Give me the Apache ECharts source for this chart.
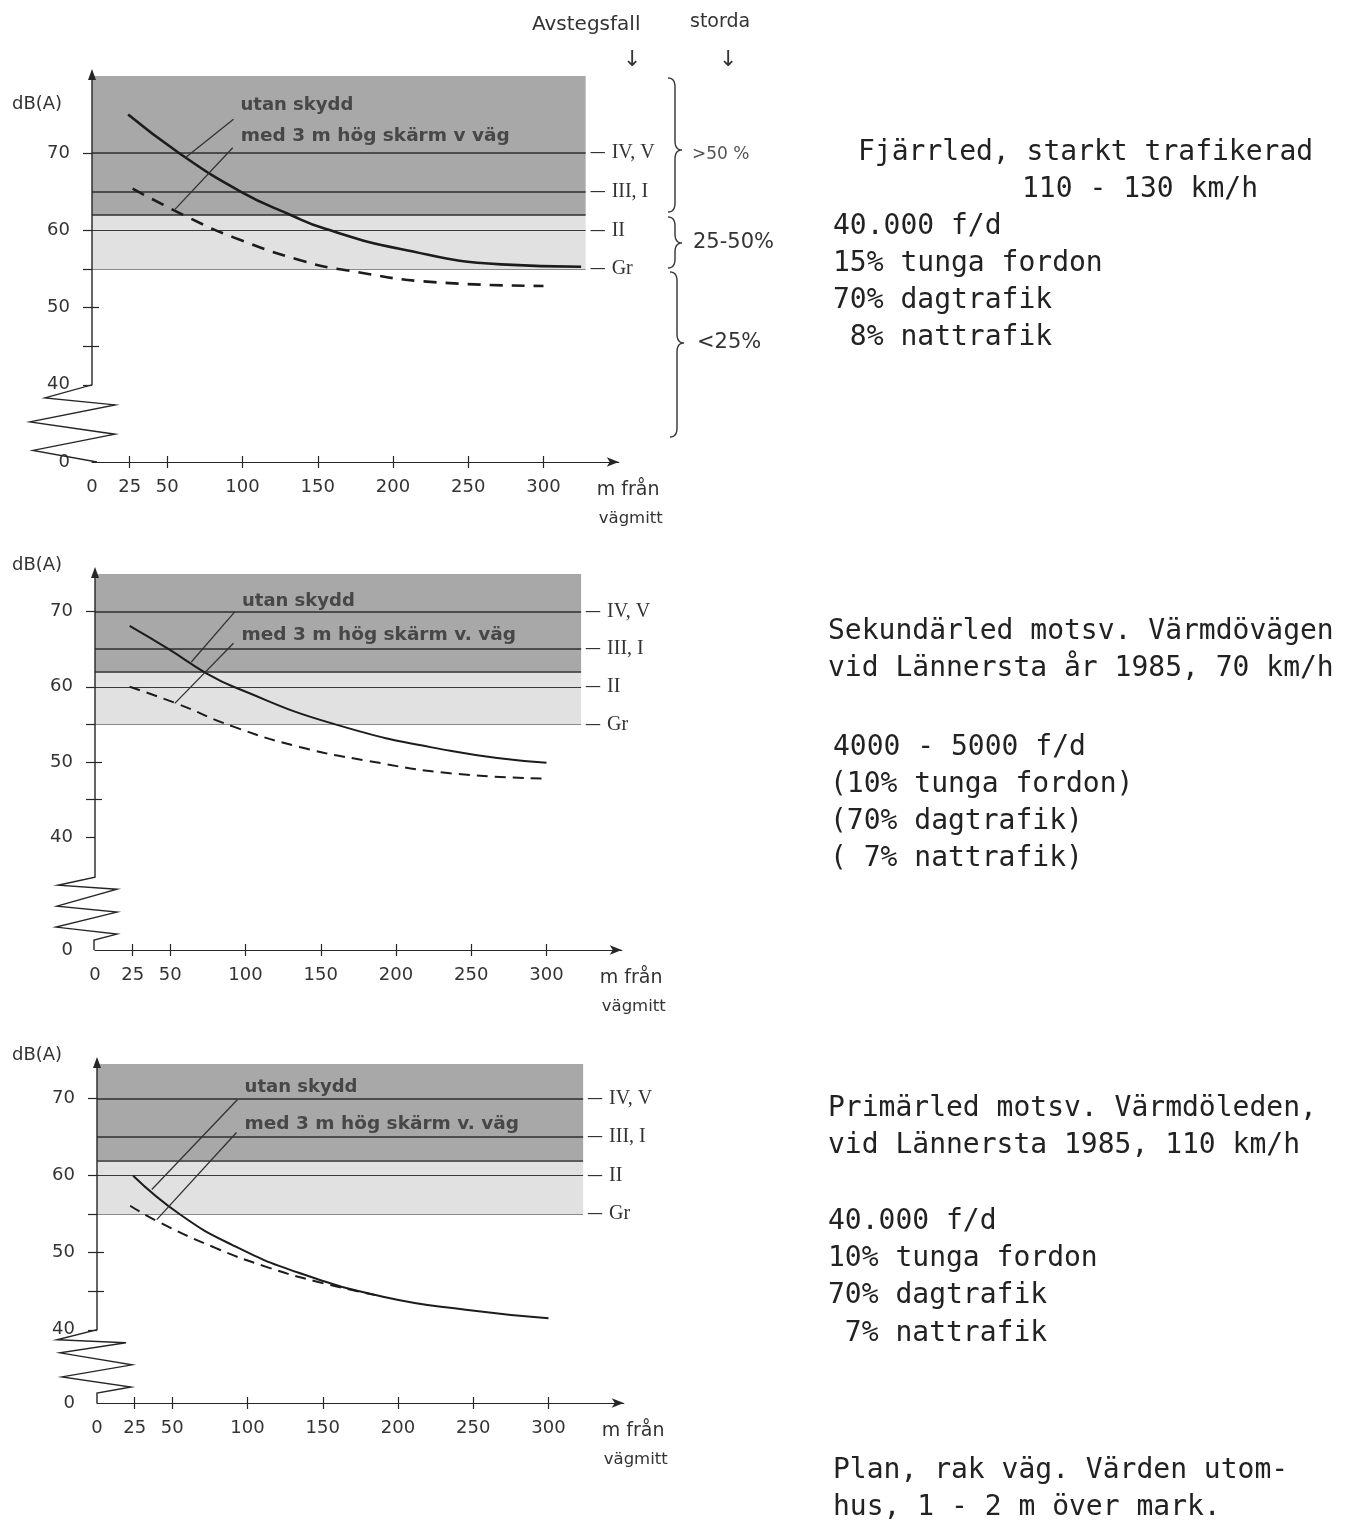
<!DOCTYPE html>
<html>
<head>
<meta charset="utf-8">
<script src="https://cdn.jsdelivr.net/npm/echarts@6/dist/echarts.min.js"></script>
<style>
  html, body { margin: 0; padding: 0; background: #fff; }
  #chart { width: 1351px; height: 1536px; }
</style>
</head>
<body>
<div id="chart"></div>
<script>
// Axis ticks: distance from road centre (m) and sound level dB(A)
const distanceTicks = [0, 25, 50, 100, 150, 200, 250, 300];
const levelLabels = [0, 40, 50, 60, 70];
const levelTicks = [40, 45, 50, 55, 60, 70];

// Guideline levels (dB(A)) and their zone names
const zoneNames = ['IV, V', 'III, I', 'II', 'Gr'];
const zoneLevels = [70, 65, 60, 55];
const bandSplit = 62;   // border between the >50 % and the 25-50 % bands

// Fjärrled, starkt trafikerad
const fjarrUtan = [[24, 75], [58, 70], [99, 65], [132, 62], [155, 60.2], [205, 57.6], [272, 55.6], [325, 55.3]];
const fjarrMed = [[27, 65.4], [66, 61.5], [94, 59.1], [139, 56.1], [170, 54.8], [227, 53.3], [300, 52.8]];
const fjarrUtanLeader = [[94, 74.4], [62, 69.4]];
const fjarrMedLeader = [[93.5, 70.7], [54.5, 62.6]];

// Sekundärled (Värmdövägen)
const sekUtan = [[23, 68.1], [49, 65], [74, 61.8], [92, 60], [158, 55.1], [236, 51.5], [300, 49.9]];
const sekMed = [[23, 60], [54, 57.8], [92, 54.7], [136, 52], [180, 50.2], [236, 48.5], [300, 47.8]];
const sekUtanLeader = [[93, 70], [64, 63.3]];
const sekMedLeader = [[92, 65.8], [53, 57.8]];

// Primärled (Värmdöleden)
const primUtan = [[24, 60], [55, 55], [90, 51], [134, 47.4], [190, 44.3], [245, 42.6], [300, 41.5]];
const primMed = [[22, 56.1], [42, 53.9], [79, 50.6], [112, 48.2], [145, 46.3], [185, 44.5]];
const primUtanLeader = [[93.4, 69.9], [36.4, 58.2]];
const primMedLeader = [[92.7, 65.6], [39.7, 54.3]];

const utanText = 'utan skydd';
const medTexts = ['med 3 m hög skärm v väg', 'med 3 m hög skärm v. väg', 'med 3 m hög skärm v. väg'];

const FONT = 'DejaVu Sans';
const INK = '#262626';

// Layout of the three diagrams
const panels = [
  { left: 92, top: 76, height: 386, yMax: 80, gap: '20%', bandRight: 328,
    utan: fjarrUtan, med: fjarrMed, utanLeader: fjarrUtanLeader, medLeader: fjarrMedLeader,
    width: 2.6, dash: [13, 9], textDy: [-14, -12],
    zig: [[0, 0], [-47, 0.17], [23, 0.26], [-62, 0.48], [23, 0.64], [-59, 0.85], [5, 1]] },
  { left: 95, top: 574, height: 376, yMax: 75, gap: '30%', bandRight: 323,
    utan: sekUtan, med: sekMed, utanLeader: sekUtanLeader, medLeader: sekMedLeader,
    width: 2, dash: [11, 7], textDy: [-10, -8],
    zig: [[0, 0], [0, 0.355], [-37, 0.426], [22, 0.461], [-38, 0.611], [22, 0.664], [-39, 0.797], [22, 0.859], [-1, 0.912], [-1, 1]] },
  { left: 97, top: 1064, height: 339, yMax: 74.5, gap: '21.6%', bandRight: 323,
    utan: primUtan, med: primMed, utanLeader: primUtanLeader, medLeader: primMedLeader,
    width: 2, dash: [11, 7], textDy: [-12, -8],
    zig: [[0, 0], [-40, 0.137], [29, 0.178], [-37, 0.315], [35, 0.479], [-35, 0.644], [34, 0.781], [0, 0.863], [0, 1]] }
];

const grids = [], xAxes = [], yAxes = [], series = [];

panels.forEach((p, i) => {
  grids.push({ left: p.left, top: p.top, width: 350 * 1.505, height: p.height, outerBoundsMode: 'none' });

  const xBase = { type: 'value', gridIndex: i, position: 'bottom', min: 0, max: 350, splitLine: { show: false } };
  xAxes.push(Object.assign({}, xBase, {
    axisLine: { show: true, symbol: ['none', 'arrow'], symbolSize: [7, 12], lineStyle: { color: INK, width: 1.2 } },
    axisTick: { show: true, customValues: distanceTicks.slice(1), length: 6, lineStyle: { color: INK, width: 1.2 } },
    axisLabel: { show: true, customValues: distanceTicks, fontFamily: FONT, fontSize: 18, color: '#333', margin: 16 }
  }));
  xAxes.push(Object.assign({}, xBase, {
    axisLine: { show: false },
    axisTick: { show: true, inside: true, customValues: distanceTicks.slice(1), length: 6, lineStyle: { color: INK, width: 1.2 } },
    axisLabel: { show: false }
  }));

  const yBase = { type: 'value', gridIndex: i, position: 'left', min: 0, max: p.yMax, splitLine: { show: false },
    breaks: [{ start: 0, end: 40, gap: p.gap }], breakArea: { show: false } };
  yAxes.push(Object.assign({}, yBase, {
    axisLine: { show: false },
    axisTick: { show: true, customValues: levelTicks, length: 9, lineStyle: { color: INK, width: 1.2 } },
    axisLabel: { show: true, customValues: levelLabels, fontFamily: FONT, fontSize: 18, color: '#333', margin: 22 }
  }));
  yAxes.push(Object.assign({}, yBase, {
    axisLine: { show: false },
    axisTick: { show: true, inside: true, customValues: [45, 50], length: 7, lineStyle: { color: INK, width: 1.2 } },
    axisLabel: { show: false }
  }));

  const xi = 2 * i, yi = 2 * i;
  const dash = { fontFamily: FONT, fontSize: 16, color: '#333', padding: [0, 6, 0, 0] };
  const roman = { fontFamily: 'Liberation Serif', fontSize: 20, color: '#333' };
  const zoneLine = (lvl, name, style) => [
    { coord: [0, lvl], lineStyle: style,
      label: name ? { show: true, position: 'end', distance: 4, formatter: '{d|—}{r|' + name + '}', rich: { d: dash, r: roman } } : { show: false } },
    { coord: [p.bandRight, lvl] }
  ];
  const strong = { color: '#2e2e2e', width: 1.7, type: 'solid' };
  const thin = { color: '#3a3a3a', width: 1.1, type: 'solid' };
  const faint = { color: '#8a8a8a', width: 1, type: 'solid' };

  series.push({
    type: 'line', name: 'utan skydd', xAxisIndex: xi, yAxisIndex: yi, data: p.utan,
    smooth: true, symbol: 'none', silent: true, z: 6,
    lineStyle: { color: '#1c1c1c', width: p.width },
    markArea: { silent: true, z: 1, data: [
      [{ xAxis: 0, yAxis: bandSplit, itemStyle: { color: '#a8a8a8' } }, { xAxis: p.bandRight, yAxis: p.yMax }],
      [{ xAxis: 0, yAxis: zoneLevels[3], itemStyle: { color: '#e1e1e1' } }, { xAxis: p.bandRight, yAxis: bandSplit }]
    ] },
    markLine: { silent: true, symbol: ['none', 'none'], z: 2, data: [
      zoneLine(zoneLevels[0], zoneNames[0], strong),
      zoneLine(zoneLevels[1], zoneNames[1], strong),
      zoneLine(bandSplit, null, strong),
      zoneLine(zoneLevels[2], zoneNames[2], thin),
      zoneLine(zoneLevels[3], zoneNames[3], faint)
    ] }
  });
  series.push({
    type: 'line', name: 'med 3 m hög skärm', xAxisIndex: xi, yAxisIndex: yi, data: p.med,
    smooth: true, symbol: 'none', silent: true, z: 6,
    lineStyle: { color: '#1c1c1c', width: p.width, type: p.dash }
  });
  [p.utanLeader, p.medLeader].forEach(d => series.push({
    type: 'line', xAxisIndex: xi, yAxisIndex: yi, data: d, symbol: 'none', silent: true, z: 7,
    lineStyle: { color: '#333', width: 1.3 }
  }));
});

const chart = echarts.init(document.getElementById('chart'));
chart.setOption({
  animation: false,
  backgroundColor: '#fff',
  grid: grids, xAxis: xAxes, yAxis: yAxes, series: series
});

// Broken y axis, captions and side notes
function text(x, y, str, size, extra) {
  return { type: 'text', x: x, y: y, z: 20, silent: true,
    style: Object.assign({ text: str, fontFamily: FONT, fontSize: size, fill: '#333', verticalAlign: 'middle' }, extra || {}) };
}
// curly bracket opening to the left, tip to the right
function quad(a, c, b, n) {
  const out = [];
  for (let k = 1; k <= n; k++) {
    const t = k / n, s = 1 - t;
    out.push([s * s * a[0] + 2 * s * t * c[0] + t * t * b[0], s * s * a[1] + 2 * s * t * c[1] + t * t * b[1]]);
  }
  return out;
}
function brace(x, y1, y2, ym, w) {
  const h = x + w / 2, r = 9;
  let pts = [[x, y1]];
  pts = pts.concat(quad([x, y1], [h, y1], [h, y1 + r], 8));
  pts.push([h, ym - r]);
  pts = pts.concat(quad([h, ym - r], [h, ym], [x + w, ym], 8));
  pts = pts.concat(quad([x + w, ym], [h, ym], [h, ym + r], 8));
  pts.push([h, y2 - r]);
  pts = pts.concat(quad([h, y2 - r], [h, y2], [x, y2], 8));
  return { type: 'polyline', z: 20, silent: true, shape: { points: pts },
    style: { fill: 'none', stroke: '#333', lineWidth: 1.4 } };
}

const graphics = [];
panels.forEach((p, i) => {
  const toPx = (x, y) => chart.convertToPixel({ gridIndex: i }, [x, y]);
  const top = toPx(0, p.yMax), at40 = toPx(0, 40), at0 = toPx(0, 0);
  const x0 = at40[0], span = at0[1] - at40[1];
  const pts = [[x0, top[1]], [x0, at40[1]]].concat(p.zig.map(z => [x0 + z[0], at40[1] + z[1] * span]));
  graphics.push({ type: 'polyline', z: 15, silent: true, shape: { points: pts },
    style: { stroke: INK, lineWidth: 1.4, fill: 'none' } });
  graphics.push({ type: 'polygon', z: 15, silent: true,
    shape: { points: [[x0, top[1] - 7], [x0 - 4, top[1] + 4], [x0 + 4, top[1] + 4]] }, style: { fill: INK } });
  graphics.push(text(12, top[1] + (i === 0 ? 28 : -9), 'dB(A)', 18));

  const u = toPx(p.utanLeader[0][0], p.utanLeader[0][1]);
  const m = toPx(p.medLeader[0][0], p.medLeader[0][1]);
  const labelStyle = { fontWeight: 'bold', fill: '#474747' };
  graphics.push(text(u[0] + 7, u[1] + p.textDy[0], utanText, 18, labelStyle));
  graphics.push(text(m[0] + 8, m[1] + p.textDy[1], medTexts[i], 18.5, labelStyle));

  const axisEnd = toPx(350, 0);
  graphics.push(text(axisEnd[0] - 22, axisEnd[1] + 28, 'm från', 19));
  graphics.push(text(axisEnd[0] - 20, axisEnd[1] + 57, 'vägmitt', 16.5));
});

// Column headings and brackets of the first diagram
graphics.push(text(532, 25, 'Avstegsfall', 20));
graphics.push(text(690, 22, 'storda', 19));
graphics.push(text(623, 60, '↓', 22));
graphics.push(text(719, 60, '↓', 22));
graphics.push(brace(668, 78, 212, 150, 14));
graphics.push(brace(668, 217, 268, 243, 14));
graphics.push(brace(670, 272, 437, 343, 14));
graphics.push(text(692, 155, '>50 %', 17, { fill: '#555' }));
graphics.push(text(693, 243, '25-50%', 21));
graphics.push(text(697, 343, '<25%', 21));

// Side notes
const MONO = { fontFamily: 'DejaVu Sans Mono', fill: '#222' };
const notes = [
  [858, 153, 'Fjärrled, starkt trafikerad'],
  [1022, 190, '110 - 130 km/h'],
  [833, 227, '40.000 f/d'],
  [833, 264, '15% tunga fordon'],
  [833, 301, '70% dagtrafik'],
  [833, 338, ' 8% nattrafik'],
  [828, 632, 'Sekundärled motsv. Värmdövägen'],
  [828, 669, 'vid Lännersta år 1985, 70 km/h'],
  [833, 748, '4000 - 5000 f/d'],
  [830, 785, '(10% tunga fordon)'],
  [830, 822, '(70% dagtrafik)'],
  [830, 859, '( 7% nattrafik)'],
  [828, 1109, 'Primärled motsv. Värmdöleden,'],
  [828, 1146, 'vid Lännersta 1985, 110 km/h'],
  [828, 1222, '40.000 f/d'],
  [828, 1259, '10% tunga fordon'],
  [828, 1296, '70% dagtrafik'],
  [828, 1334, ' 7% nattrafik'],
  [833, 1471, 'Plan, rak väg. Värden utom-'],
  [833, 1508, 'hus, 1 - 2 m över mark.']
];
notes.forEach(n => graphics.push(text(n[0], n[1], n[2], 28, MONO)));

chart.setOption({ graphic: graphics });
</script>
</body>
</html>
